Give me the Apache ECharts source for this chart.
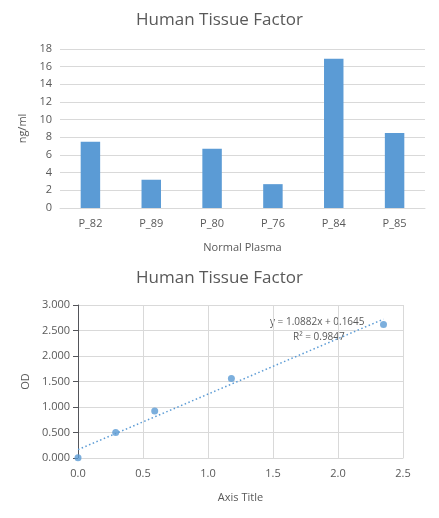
<!DOCTYPE html>
<html><head><meta charset="utf-8">
<script src="https://cdn.jsdelivr.net/npm/echarts@6/dist/echarts.min.js"></script>
<style>html,body{margin:0;padding:0;background:#fff}#c{width:439px;height:518px}</style>
</head><body><div id="c"></div>
<script>
const categories = ['P_82','P_89','P_80','P_76','P_84','P_85'];
const barValues = [7.5, 3.2, 6.7, 2.7, 16.9, 8.5];
const odX = [0, 0.29, 0.59, 1.18, 2.35];
const odY = [0.005, 0.50, 0.92, 1.56, 2.62];
const slope = 1.0882, intercept = 0.1645;
const trendX = [0, 2.35];
const eqText = 'y = 1.0882x + 0.1645';
const r2Text = 'R² = 0.9847';

const font = 'Open Sans';
const grey = '#595959';
const gridLine = {lineStyle:{color:'#d9d9d9'}};
const chart = echarts.init(document.getElementById('c'));
chart.setOption({
  animation:false,
  textStyle:{fontFamily:font},
  title:[
    {text:'Human Tissue Factor',left:'center',top:7,textStyle:{fontFamily:font,fontSize:17,fontWeight:'normal',color:grey}},
    {text:'Human Tissue Factor',left:'center',top:265,textStyle:{fontFamily:font,fontSize:17,fontWeight:'normal',color:grey}}
  ],
  grid:[
    {left:60,right:14,top:49,bottom:310},
    {left:78,right:36,top:305,bottom:60}
  ],
  xAxis:[
    {type:'category',gridIndex:0,data:categories,axisTick:{show:false},
     axisLine:{lineStyle:{color:'#d9d9d9'}},axisLabel:{color:grey,fontSize:11,margin:10},
     name:'Normal Plasma',nameLocation:'middle',nameGap:34,nameTextStyle:{color:grey,fontSize:11}},
    {type:'value',gridIndex:1,min:0,max:2.5,interval:0.5,splitLine:{show:true,...gridLine},
     axisTick:{show:false},axisLine:{lineStyle:{color:'#d9d9d9'}},
     axisLabel:{color:grey,fontSize:11,margin:10,formatter:v=>v.toFixed(1)},
     name:'Axis Title',nameLocation:'middle',nameGap:34,nameTextStyle:{color:grey,fontSize:11}}
  ],
  yAxis:[
    {type:'value',gridIndex:0,min:0,max:18,interval:2,splitLine:gridLine,axisLabel:{color:grey,fontSize:11},
     name:'ng/ml',nameLocation:'middle',nameGap:28,nameTextStyle:{color:grey,fontSize:11}},
    {type:'value',gridIndex:1,min:0,max:3,interval:0.5,splitLine:gridLine,
     axisLabel:{color:grey,fontSize:11,formatter:v=>v.toFixed(3)},
     name:'OD',nameLocation:'middle',nameGap:46,nameTextStyle:{color:grey,fontSize:11}}
  ],
  series:[
    {type:'bar',xAxisIndex:0,yAxisIndex:0,data:barValues,barWidth:'32%',itemStyle:{color:'#5b9bd5'}},
    {type:'line',xAxisIndex:1,yAxisIndex:1,data:trendX.map(x=>[x,slope*x+intercept]),symbol:'none',
     lineStyle:{color:'#5b9bd5',width:1.5,type:[1.5,2.5]},z:1},
    {type:'scatter',xAxisIndex:1,yAxisIndex:1,data:odX.map((x,i)=>[x,odY[i]]),symbolSize:7,itemStyle:{color:'#5b9bd5'},z:3}
  ],
  graphic:[
    {type:'text',x:270,y:317,style:{text:eqText,fill:grey,font:'10px '+font}},
    {type:'text',x:293,y:332,style:{text:r2Text,fill:grey,font:'10px '+font}}
  ]
});
</script></body></html>
